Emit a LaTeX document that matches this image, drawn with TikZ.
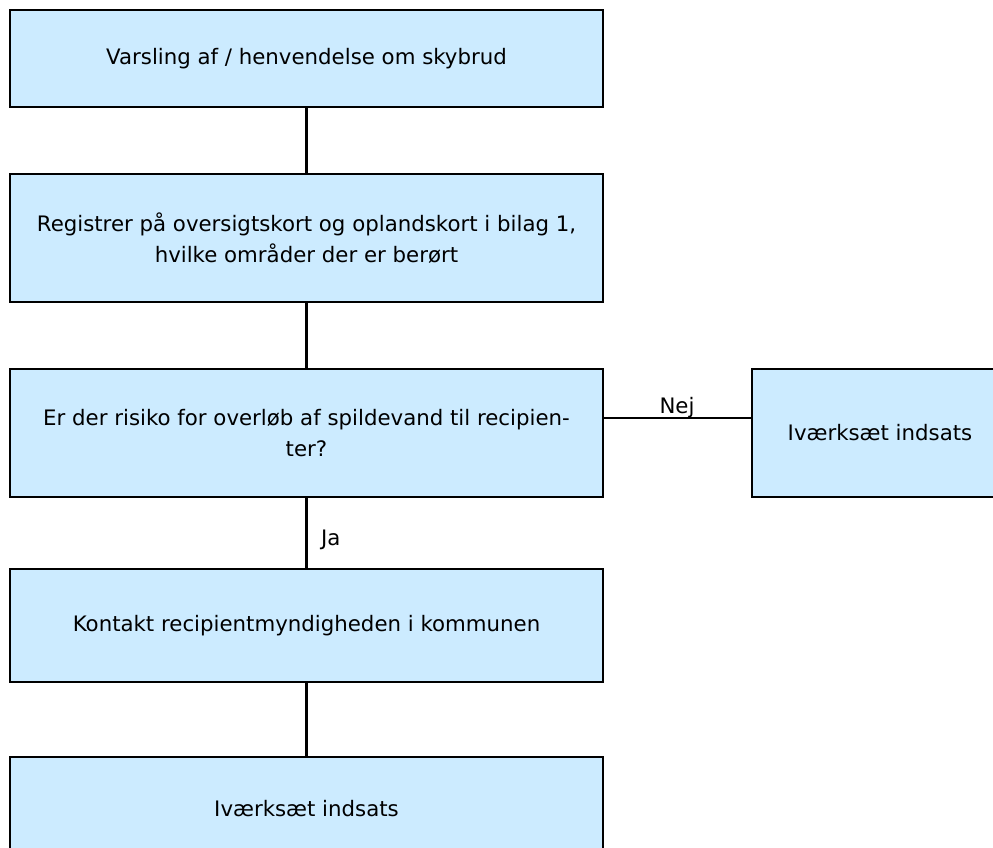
\documentclass[tikz,border=0pt]{standalone}
\usepackage{fontspec}
\setmainfont{DejaVu Sans}
\begin{document}
\begin{tikzpicture}[x=1pt,y=-1pt,
  flowbox/.style={draw=black,line width=2.3pt,fill=boxblue,align=center,inner sep=0pt,font=\fontsize{21.3}{31.5}\selectfont},
  conn/.style={draw=black,line width=2.3pt},
  lbl/.style={font=\fontsize{21.3}{24}\selectfont,inner sep=0pt}]
\definecolor{boxblue}{HTML}{CCEBFF}
\useasboundingbox (0,0) rectangle (993,847);
\clip (0,0) rectangle (993,847);
\fill[white] (0,0) rectangle (993,847);
\node[flowbox,minimum width=593pt,minimum height=97pt] (b1) at (306.5,58.5) {Varsling af / henvendelse om skybrud};
\node[flowbox,minimum width=593pt,minimum height=128pt] (b2) at (306.5,238) {Registrer på oversigtskort og oplandskort i bilag 1,\\hvilke områder der er berørt};
\node[flowbox,minimum width=593pt,minimum height=128pt] (b3) at (306.5,433) {Er der risiko for overløb af spildevand til recipien-\\ter?};
\node[flowbox,minimum width=256pt,minimum height=128pt] (b4) at (880,433) {Iværksæt indsats};
\node[flowbox,minimum width=593pt,minimum height=113pt] (b5) at (306.5,625.5) {Kontakt recipientmyndigheden i kommunen};
\node[flowbox,minimum width=593pt,minimum height=104pt] (b6) at (306.5,809) {Iværksæt indsats};
\draw[conn] (b1.south) -- (b2.north);
\draw[conn] (b2.south) -- (b3.north);
\draw[conn] (b3.south) -- (b5.north);
\draw[conn] (b5.south) -- (b6.north);
\draw[conn] (b3.east |- 0,418) coordinate (nejA) -- (b4.west |- 0,418) coordinate (nejB);
\node[lbl,anchor=base] (nej) at (677,413) {Nej};
\node[lbl,anchor=base west] (ja) at (321,545) {Ja};
\end{tikzpicture}
\end{document}
